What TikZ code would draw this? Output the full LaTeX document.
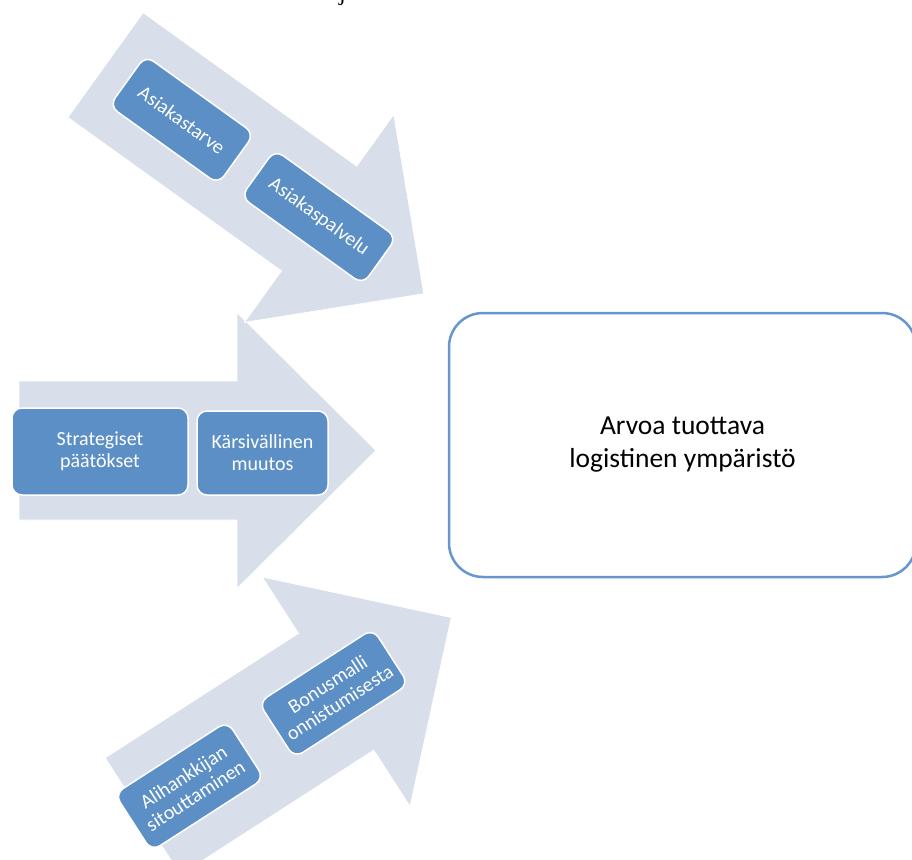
\documentclass[tikz,border=0pt]{standalone}
\usepackage{fontspec}
\setmainfont{Carlito}
\newfontfamily\headserif{Liberation Serif}

\definecolor{arrowfill}{HTML}{D8DFEB}
\definecolor{boxfill}{HTML}{5B8FC6}
\definecolor{frameblue}{HTML}{6596CD}

\tikzset{
  bigarrow/.style={fill=arrowfill, draw=white, line width=0.8pt, line join=miter},
  stepbox/.style={rectangle, rounded corners=10pt, fill=boxfill, draw=white,
    line width=1.5pt, text=white, align=center, inner sep=0pt, transform shape,
    font=\fontsize{20}{22}\selectfont},
  goalbox/.style={rectangle, rounded corners=34pt, draw=frameblue, fill=white,
    line width=2.5pt, text=black, align=center, inner sep=0pt,
    font=\fontsize{27.5}{33}\selectfont},
}

\begin{document}
\begin{tikzpicture}[x=1pt, y=-1pt]
  \useasboundingbox (0,0) rectangle (912,859);
  \clip (0,0) rectangle (912,859);

  % cut-off heading line above the diagram
  \node[anchor=base west, inner sep=0pt, font=\headserif\fontsize{24}{24}\selectfont] (headtail) at (339,1) {j};

  % middle arrow: pointing right
  \begin{scope}[shift={(19,450.5)}]
    \path[bigarrow] (0,-69.5) -- (218,-69.5) -- (218,-138) -- (357,0)
      -- (218,138) -- (218,69.5) -- (0,69.5) -- cycle;
    \node[stepbox, minimum width=176pt, minimum height=87pt] (strat) at (81,1) {Strategiset\\päätökset};
    \node[stepbox, minimum width=131pt, minimum height=84pt] (patience) at (243.5,2.5) {Kärsivällinen\\muutos};
  \end{scope}

  % upper arrow: pointing down-right
  \begin{scope}[shift={(105.5,65)}, rotate=-35.7]
    \path[bigarrow] (0,-64.5) -- (263,-64.5) -- (263,-128) -- (392,0)
      -- (263,128) -- (263,64.5) -- (0,64.5) -- cycle;
    \node[stepbox, minimum width=134pt, minimum height=62pt] (need) at (94,0) {Asiakastarve};
    \node[stepbox, minimum width=150pt, minimum height=58pt] (service) at (262,-1) {Asiakaspalvelu};
  \end{scope}

  % lower arrow: pointing up-right
  \begin{scope}[shift={(142.8,816.3)}, rotate=32.8]
    \path[bigarrow] (0,-69.5) -- (230,-69.5) -- (230,-136.5) -- (367,0)
      -- (230,136.5) -- (230,69.5) -- (0,69.5) -- cycle;
    \node[stepbox, minimum width=134pt, minimum height=68pt] (supplier) at (55.5,0) {Alihankkijan\\sitouttaminen};
    \node[stepbox, minimum width=136pt, minimum height=66pt] (bonus) at (227,0) {Bonusmalli\\onnistumisesta};
  \end{scope}

  % target box on the right
  \node[goalbox, minimum width=467pt, minimum height=264pt] (goal) at (682.5,445)
    {Arvoa tuottava\\logistinen ympäristö};
\end{tikzpicture}
\end{document}
